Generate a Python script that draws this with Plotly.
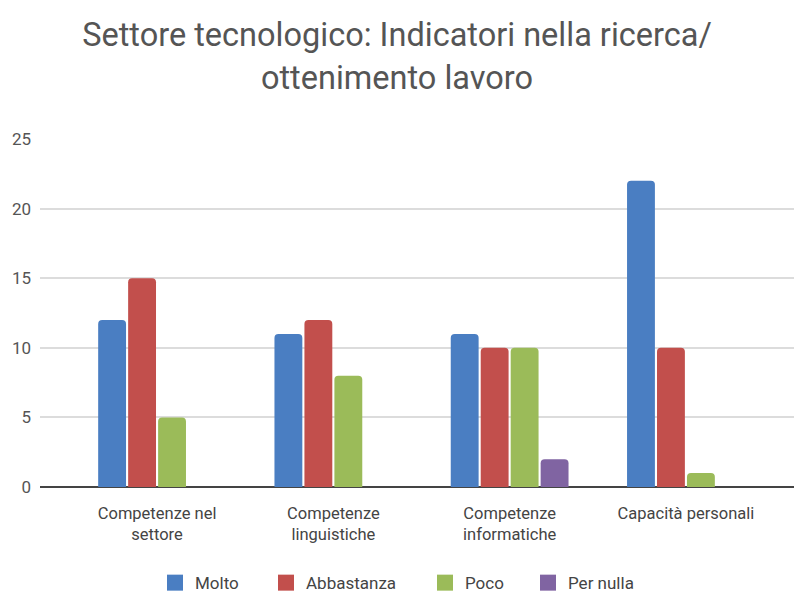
import plotly.graph_objects as go

categories = ["Competenze nel<br>settore", "Competenze<br>linguistiche", "Competenze<br>informatiche", "Capacità personali"]
series_names = ["Molto", "Abbastanza", "Poco", "Per nulla"]
molto = [12, 11, 11, 22]
abbastanza = [15, 12, 10, 10]
poco = [5, 8, 10, 1]
per_nulla = [0, 0, 2, 0]
colors = ["#4a7ec2", "#c24f4c", "#9bbb59", "#8064a2"]
y_ticks = [0, 5, 10, 15, 20, 25]
legend_left_px = [155, 266, 425, 528]

fig = go.Figure()
legend_ids = ["legend", "legend2", "legend3", "legend4"]
for name, vals, col, lid in zip(series_names, [molto, abbastanza, poco, per_nulla], colors, legend_ids):
    fig.add_trace(go.Bar(x=categories, y=vals, name=name, showlegend=False, legendgroup=name,
                         marker=dict(color=col, line=dict(width=0), cornerradius=4)))
    fig.add_trace(go.Scatter(x=[None], y=[None], mode="markers", name=name, legendgroup=name,
                             legend=lid,
                             marker=dict(symbol="square", size=16, color=col)))

fig.update_layout(
    width=794, height=595,
    margin=dict(l=40, r=0, t=139, b=108),
    paper_bgcolor="white", plot_bgcolor="white",
    font=dict(family="Roboto, sans-serif", color="#444444", size=16),
    title=dict(text="Settore tecnologico: Indicatori nella ricerca/<br>ottenimento lavoro",
               x=0.5, xanchor="center", y=0.922, yanchor="middle", yref="container",
               font=dict(size=32.5, color="#555555")),
    barmode="group", bargap=0.32, bargroupgap=0.07,
    xaxis=dict(range=[-0.664, 3.613], showgrid=False, showline=False, ticks="",
               ticklabelstandoff=14, tickfont=dict(size=16.5, color="#444444")),
    yaxis=dict(range=[0, 25], tickvals=y_ticks, showgrid=True, gridcolor="#dcdcdc", gridwidth=2,
               zeroline=True, zerolinecolor="#444444", zerolinewidth=2, showline=False,
               ticklabelstandoff=8, tickfont=dict(size=17, color="#555555")),
)
for lid, px in zip(legend_ids, legend_left_px):
    fig.update_layout({lid: dict(orientation="h", x=px / 794, xanchor="left", xref="container",
                                 y=0.02, yanchor="middle", yref="container",
                                 font=dict(size=17, color="#444444"), itemwidth=30,
                                 bgcolor="rgba(0,0,0,0)")})
fig.write_html("out.html")
